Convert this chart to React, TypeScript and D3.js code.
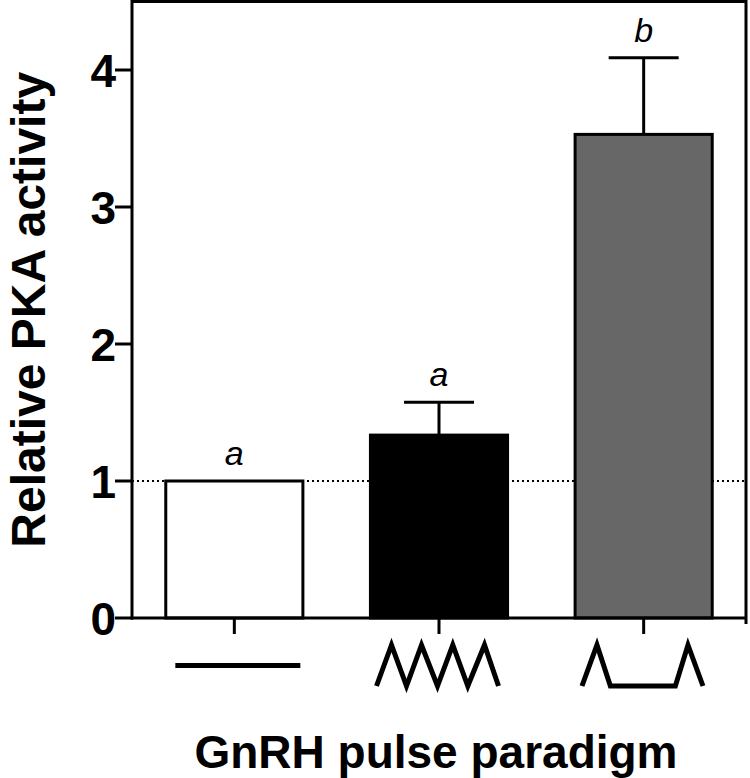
import React from "react";
import * as d3 from "d3";

const categories = ["constant", "high", "low"];
const means = [1.0, 1.335, 3.53];
const errors = [0, 0.24, 0.56];
const letters = ["a", "a", "b"];
const fills = ["#ffffff", "#000000", "#676767"];
const yTicks = [0, 1, 2, 3, 4];
// pulse glyphs for x tick labels: [dx, level] where level 1 = peak, 0 = base
const glyphs: [number, number][][] = [
  [[-59, 0.5], [66, 0.5]],
  [[-62.5, 0], [-47.5, 1], [-32.5, 0], [-17.5, 1], [-1.5, 0], [13.8, 1], [28.8, 0], [45.5, 1], [59.5, 0]],
  [[-61.7, 0], [-46.7, 1], [-33.3, 0], [31.7, 0], [44.3, 1], [59.3, 0]],
];

const W = 750;
const H = 778;
const left = 132;
const right = 746;
const top = 1.5;
const bottom = 618;

export default function App() {
  const x = d3.scaleBand<string>().domain(categories).range([left, right]).paddingInner(0.33).paddingOuter(0.165);
  const y = d3.scaleLinear().domain([0, 4.5]).range([bottom, top]);
  const gy = d3.scaleLinear().domain([0, 1]).range([686, 645]);
  const line = d3.line<[number, number]>();
  const font = "'Liberation Sans', Arial, sans-serif";
  const bw = x.bandwidth();
  return (
    <svg width={W} height={H} style={{ position: "absolute", left: 0, top: 0, background: "#fff" }}>
      <rect x={0} y={0} width={W} height={H} fill="#fff" />
      {/* dotted reference line at 1 */}
      <line x1={left} x2={right} y1={y(1)} y2={y(1)} stroke="#000" strokeWidth={2} strokeDasharray="2,3" />
      {/* bars */}
      {categories.map((c, i) => (
        <rect key={c} x={x(c)!} y={y(means[i])} width={bw} height={y(0) - y(means[i])} fill={fills[i]} stroke="#000" strokeWidth={3} />
      ))}
      {/* error bars */}
      {categories.map((c, i) => {
        if (errors[i] <= 0) return null;
        const cx = x(c)! + bw / 2;
        const yt = y(means[i] + errors[i]);
        return (
          <g key={c + "e"} stroke="#000" strokeWidth={3}>
            <line x1={cx} x2={cx} y1={y(means[i])} y2={yt} />
            <line x1={cx - 35} x2={cx + 35} y1={yt} y2={yt} />
          </g>
        );
      })}
      {/* significance letters */}
      {categories.map((c, i) => (
        <text key={c + "l"} x={x(c)! + bw / 2} y={y(means[i] + errors[i]) - 16} textAnchor="middle" fontFamily={font} fontStyle="italic" fontSize={34}>
          {letters[i]}
        </text>
      ))}
      {/* frame */}
      <line x1={left} x2={right} y1={top} y2={top} stroke="#000" strokeWidth={3} />
      <line x1={right} x2={right} y1={top - 1.5} y2={bottom + 6} stroke="#000" strokeWidth={3} />
      {/* axes */}
      <line x1={left} x2={left} y1={0} y2={bottom + 1.5} stroke="#000" strokeWidth={3} />
      <line x1={left - 1.5} x2={right} y1={bottom} y2={bottom} stroke="#000" strokeWidth={3} />
      {yTicks.map((t) => (
        <g key={t}>
          <line x1={left - 17} x2={left} y1={y(t)} y2={y(t)} stroke="#000" strokeWidth={3} />
          <text x={left - 16} y={y(t) + 16.5} textAnchor="end" fontFamily={font} fontWeight="bold" fontSize={46}>
            {t}
          </text>
        </g>
      ))}
      {categories.map((c, i) => {
        const cx = x(c)! + bw / 2;
        return (
          <g key={c + "t"}>
            <line x1={cx} x2={cx} y1={bottom} y2={bottom + 16} stroke="#000" strokeWidth={3} />
            <path
              d={line(glyphs[i].map(([dx, lv]) => [cx + dx, gy(lv)] as [number, number]))!}
              fill="none"
              stroke="#000"
              strokeWidth={5}
              strokeLinejoin="miter"
            />
          </g>
        );
      })}
      <text x={(left + right) / 2 - 3} y={768} textAnchor="middle" fontFamily={font} fontWeight="bold" fontSize={46}>
        GnRH pulse paradigm
      </text>
      <text transform={`translate(45, ${(bottom + top) / 2}) rotate(-90)`} textAnchor="middle" fontFamily={font} fontWeight="bold" fontSize={48}>
        Relative PKA activity
      </text>
    </svg>
  );
}
